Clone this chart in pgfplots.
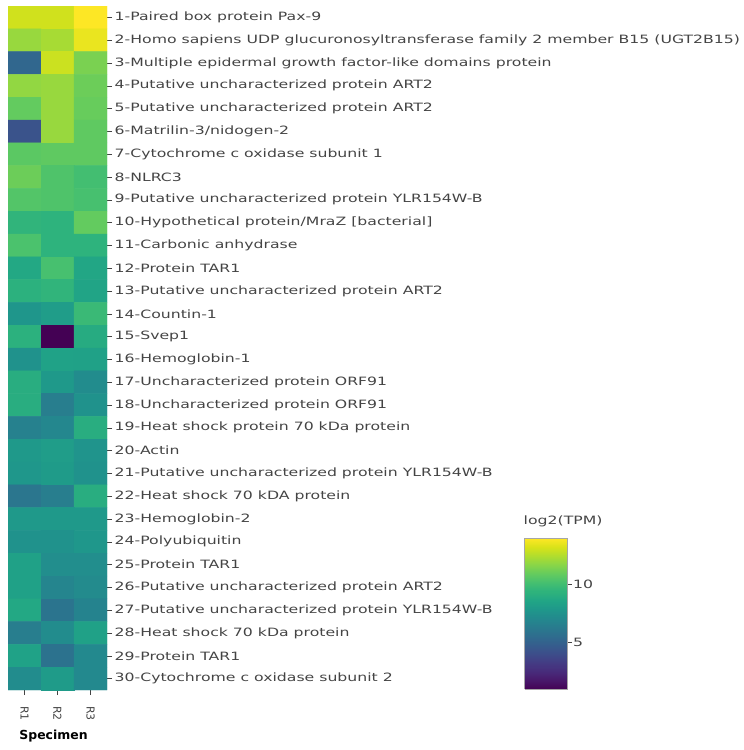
\documentclass[border=0pt]{standalone}
\usepackage{fontspec}
\setmainfont{DejaVu Sans}
\newfontfamily\wide{DejaVu Sans}[FakeStretch=1.37]
\usepackage{pgfplots}
\usepackage{pgfplotstable}
\pgfplotsset{compat=1.18}
\definecolor{txt}{HTML}{444444}

% log2(TPM) per transcript (row) and specimen (column 0 = R1, 1 = R2, 2 = R3)
\pgfplotstableread{
x y c
0 1 13.1
1 1 13.1
2 1 14.0
0 2 12.0
1 2 12.3
2 2 13.6
0 3 5.3
1 3 13.0
2 3 11.4
0 4 11.9
1 4 12.0
2 4 11.1
0 5 10.9
1 5 12.0
2 5 11.0
0 6 4.3
1 6 12.0
2 6 10.8
0 7 10.7
1 7 10.8
2 7 10.8
0 8 11.1
1 8 10.4
2 8 10.1
0 9 10.5
1 9 10.4
2 9 10.2
0 10 9.5
1 10 9.4
2 10 10.9
0 11 10.3
1 11 9.4
2 11 9.4
0 12 8.8
1 12 10.2
2 12 8.7
0 13 9.3
1 13 9.5
2 13 8.6
0 14 7.8
1 14 8.2
2 14 9.8
0 15 9.3
1 15 1.0
2 15 9.0
0 16 7.6
1 16 8.5
2 16 8.4
0 17 9.1
1 17 8.0
2 17 7.3
0 18 9.1
1 18 6.5
2 18 7.6
0 19 6.7
1 19 7.0
2 19 9.1
0 20 8.0
1 20 8.2
2 20 7.7
0 21 7.9
1 21 8.1
2 21 7.6
0 22 6.1
1 22 6.5
2 22 9.1
0 23 8.0
1 23 8.0
2 23 8.0
0 24 7.6
1 24 7.6
2 24 7.9
0 25 8.4
1 25 7.4
2 25 7.4
0 26 8.4
1 26 6.9
2 26 7.2
0 27 8.8
1 27 6.0
2 27 6.8
0 28 6.5
1 28 7.3
2 28 8.4
0 29 8.5
1 29 5.9
2 29 7.1
0 30 7.3
1 30 8.1
2 30 7.1
}\tpm

\begin{document}
\begin{tikzpicture}
\useasboundingbox (0,0) rectangle (744bp,750bp);
\begin{axis}[
  at={(8bp,60bp)}, anchor=south west,
  scale only axis, width=99bp, height=684bp,
  xmin=-0.5, xmax=2.5, ymin=0.5, ymax=30.5,
  y dir=reverse,
  axis line style={draw=none},
  colormap/viridis,
  point meta min=1, point meta max=14,
  xtick={0,1,2}, xticklabels={R1,R2,R3},
  ytick={1,...,30},
  yticklabels={
    1-Paired box protein Pax-9,
    2-Homo sapiens UDP glucuronosyltransferase family 2 member B15 (UGT2B15),
    3-Multiple epidermal growth factor-like domains protein,
    4-Putative uncharacterized protein ART2,
    5-Putative uncharacterized protein ART2,
    6-Matrilin-3/nidogen-2,
    7-Cytochrome c oxidase subunit 1,
    8-NLRC3,
    9-Putative uncharacterized protein YLR154W-B,
    10-Hypothetical protein/MraZ [bacterial],
    11-Carbonic anhydrase,
    12-Protein TAR1,
    13-Putative uncharacterized protein ART2,
    14-Countin-1,
    15-Svep1,
    16-Hemoglobin-1,
    17-Uncharacterized protein ORF91,
    18-Uncharacterized protein ORF91,
    19-Heat shock protein 70 kDa protein,
    20-Actin,
    21-Putative uncharacterized protein YLR154W-B,
    22-Heat shock 70 kDA protein,
    23-Hemoglobin-2,
    24-Polyubiquitin,
    25-Protein TAR1,
    26-Putative uncharacterized protein ART2,
    27-Putative uncharacterized protein YLR154W-B,
    28-Heat shock 70 kDa protein,
    29-Protein TAR1,
    30-Cytochrome c oxidase subunit 2},
  yticklabel pos=right,
  ytick pos=right,
  xtick pos=bottom,
  tick align=outside,
  major tick length=5bp,
  tick style={color=txt, line width=0.6pt},
  yticklabel style={font=\wide\fontsize{11.5}{13}\selectfont, text=txt, inner sep=2.5bp},
  xticklabel style={font=\fontsize{11}{13}\selectfont, text=txt, rotate=-90, anchor=west, inner sep=2bp, xshift=9bp},
  xlabel={\textbf{Specimen}},
  xlabel style={font=\fontsize{12.5}{14}\selectfont, text=black, at={(0.46,0)}, anchor=north, yshift=-37bp},
  colorbar right,
  colorbar sampled={surf, mark=none, shader=flat mean},
  colorbar style={
    at={(parent axis.south east)}, anchor=south west,
    xshift=409bp, yshift=1bp,
    width=43bp, height=151bp,
    scale only axis,
    samples=150,
    xmin=0, xmax=1, xtick=\empty,
    ymin=1, ymax=14,
    ytick={5,10}, ytick pos=right, yticklabel pos=right,
    point meta min=1, point meta max=14,
    axis line style={draw=gray!70, line width=0.6pt},
    tick align=outside,
    major tick length=4bp,
    tick style={color=txt, line width=0.6pt},
    yticklabel style={font=\wide\fontsize{11.5}{13}\selectfont, text=txt, inner sep=1.5bp},
    /pgf/number format/assume math mode=true,
    title={log2(TPM)},
    title style={font=\wide\fontsize{11.5}{13}\selectfont, text=txt, at={(0,1)}, anchor=south west, xshift=-3bp, yshift=3bp, inner sep=2bp},
  },
]
\addplot[matrix plot*, mesh/cols=3, point meta=explicit, shader=flat corner]
  table[x=x, y=y, meta=c] {\tpm};
\end{axis}
\end{tikzpicture}
\end{document}
